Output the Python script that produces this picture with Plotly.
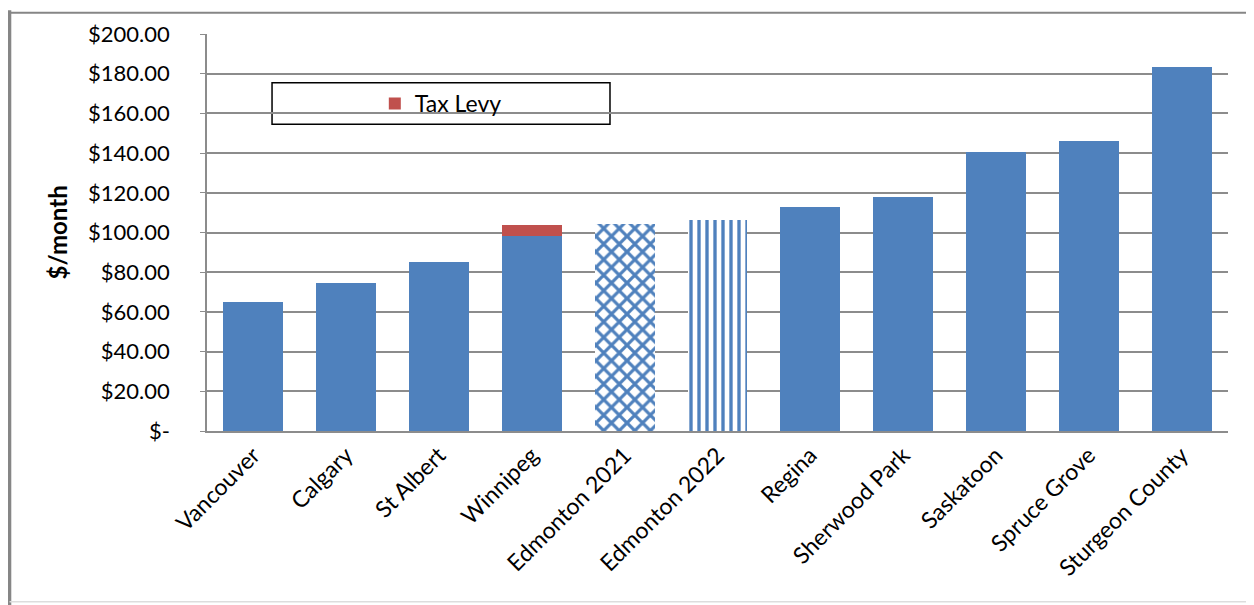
import plotly.graph_objects as go

categories = ["Vancouver", "Calgary", "St Albert", "Winnipeg", "Edmonton 2021",
              "Edmonton 2022", "Regina", "Sherwood Park", "Saskatoon",
              "Spruce Grove", "Sturgeon County"]
base_cost = [65, 74.5, 85, 98, None, None, 113, 118, 140.5, 146, 183.5]
edmonton_2021 = [None, None, None, None, 104.5, None, None, None, None, None, None]
edmonton_2022 = [None, None, None, None, None, 106.5, None, None, None, None, None]
tax_levy = [None, None, None, 6, None, None, None, None, None, None, None]

tick_vals = [0, 20, 40, 60, 80, 100, 120, 140, 160, 180, 200]
tick_text = ["$-", "$20.00", "$40.00", "$60.00", "$80.00", "$100.00",
             "$120.00", "$140.00", "$160.00", "$180.00", "$200.00"]

BLUE = "#4F81BD"
RED = "#C0504D"
FONT = "Lato, Open Sans, sans-serif"

fig = go.Figure()
fig.add_trace(go.Bar(x=categories, y=base_cost, marker=dict(color=BLUE, line=dict(width=0)),
                     showlegend=False, name="Base"))
fig.add_trace(go.Bar(x=categories, y=edmonton_2021, showlegend=False, name="Edmonton 2021",
                     marker=dict(color="white", line=dict(width=0),
                                 pattern=dict(shape="x", fgcolor=BLUE, bgcolor="white",
                                              fillmode="replace", size=11, solidity=0.5))))
fig.add_trace(go.Bar(x=categories, y=edmonton_2022, showlegend=False, name="Edmonton 2022",
                     marker=dict(color="white", line=dict(width=0),
                                 pattern=dict(shape="|", fgcolor=BLUE, bgcolor="white",
                                              fillmode="replace", size=8, solidity=0.42))))
fig.add_trace(go.Bar(x=categories, y=tax_levy, name="Tax Levy",
                     marker=dict(color=RED, line=dict(width=0))))

fig.update_layout(
    width=1246, height=597,
    barmode="stack", bargap=0.355,
    paper_bgcolor="white", plot_bgcolor="white",
    margin=dict(l=199, r=26, t=23, b=174),
    font=dict(family=FONT, size=22, color="black"),
    legend=dict(x=0.229, y=0.825, xanchor="center", yanchor="middle",
                bgcolor="rgba(0,0,0,0)", borderwidth=0,
                font=dict(family=FONT, size=23), itemwidth=30),
    showlegend=True,
)
fig.update_yaxes(range=[0, 200], tickvals=tick_vals, ticktext=tick_text,
                 showgrid=True, gridcolor="#8C8C8C", gridwidth=1.5,
                 showline=True, linecolor="#8C8C8C", linewidth=1.5,
                 ticks="outside", ticklen=5, tickcolor="#8C8C8C",
                 ticklabelstandoff=26, zeroline=False,
                 tickfont=dict(family=FONT, size=22))
fig.update_xaxes(tickangle=-45, showline=True, linecolor="#8C8C8C", linewidth=1.5,
                 tickfont=dict(family=FONT, size=23), ticks="")

fig.add_annotation(text="<b>$/month</b>", xref="paper", yref="paper",
                   x=-0.146, y=0.5, xanchor="center", yanchor="middle",
                   textangle=-90, showarrow=False,
                   font=dict(family=FONT, size=24))

# legend box
fig.add_shape(type="rect", xref="paper", yref="paper",
              x0=0.0637, x1=0.3947, y0=0.7725, y1=0.8775,
              line=dict(color="black", width=1.5), fillcolor="white", layer="below")
# outer chart frame (left, top, bottom)
fig.add_shape(type="line", xref="paper", yref="paper",
              x0=-0.1934, x1=-0.1934, y0=-0.44, y1=1.06,
              line=dict(color="#868686", width=3.5))
fig.add_shape(type="line", xref="paper", yref="paper",
              x0=-0.1934, x1=1.03, y0=1.0535, y1=1.0535,
              line=dict(color="#868686", width=2))
fig.add_shape(type="line", xref="paper", yref="paper",
              x0=-0.1934, x1=1.03, y0=-0.43, y1=-0.43,
              line=dict(color="#DDDDDD", width=1.5))

fig.write_html("out.html")
